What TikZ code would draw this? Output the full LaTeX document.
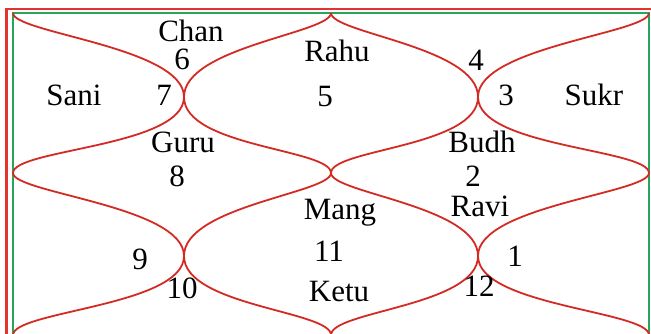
\documentclass[tikz,border=0pt]{standalone}
\usepackage{fontspec}
\setmainfont{Liberation Serif}
\definecolor{chartred}{RGB}{212,42,36}
\definecolor{framered}{RGB}{228,52,46}
\definecolor{framegreen}{RGB}{40,165,90}
\begin{document}
\begin{tikzpicture}[x=1pt,y=-1pt,
  curve/.style={draw=chartred,line width=1.8pt},
  lbl/.style={anchor=base,inner sep=0pt,font=\fontsize{31}{36}\selectfont}]
\useasboundingbox (0,0) rectangle (651,334);
\clip (0,0) rectangle (651,334);
\fill[white] (0,0) rectangle (651,334);
% frames
\draw[framered,line width=2.8pt] (6.5,9) rectangle (660,345);
\draw[framegreen,line width=1.4pt] (13,13) rectangle (649,335);
% key points
\coordinate (TL) at (13,13);
\coordinate (TM) at (331,13);
\coordinate (TR) at (649,13);
\coordinate (ML) at (13,173);
\coordinate (C)  at (331,173);
\coordinate (MR) at (649,173);
\coordinate (BL) at (13,335);
\coordinate (BM) at (331,335);
\coordinate (BR) at (649,335);
\coordinate (X1) at (184,97);
\coordinate (X2) at (478,97);
\coordinate (X3) at (184,256);
\coordinate (X4) at (478,256);
% wavy chains
\draw[curve] (TL) .. controls +(0,20) and +(0,-50) .. (X1)
  .. controls +(0,50) and +(0,-24) .. (ML)
  .. controls +(0,20) and +(0,-50) .. (X3)
  .. controls +(0,50) and +(0,-24) .. (BL);
\draw[curve] (TM) .. controls +(0,20) and +(0,-50) .. (X1)
  .. controls +(0,50) and +(0,-24) .. (C)
  .. controls +(0,20) and +(0,-50) .. (X3)
  .. controls +(0,50) and +(0,-24) .. (BM);
\draw[curve] (TM) .. controls +(0,20) and +(0,-50) .. (X2)
  .. controls +(0,50) and +(0,-24) .. (C)
  .. controls +(0,20) and +(0,-50) .. (X4)
  .. controls +(0,50) and +(0,-24) .. (BM);
\draw[curve] (TR) .. controls +(0,20) and +(0,-50) .. (X2)
  .. controls +(0,50) and +(0,-24) .. (MR)
  .. controls +(0,20) and +(0,-50) .. (X4)
  .. controls +(0,50) and +(0,-24) .. (BR);
% labels
\node[lbl] (chan) at (191,42) {Chan};
\node[lbl] (h6) at (182,70) {6};
\node[lbl] (sani) at (74,106) {Sani};
\node[lbl] (h7) at (164,106) {7};
\node[lbl] (guru) at (183,153) {Guru};
\node[lbl] (h8) at (177,186) {8};
\node[lbl] (rahu) at (337,62) {Rahu};
\node[lbl] (h5) at (325,107) {5};
\node[lbl] (h4) at (476,71) {4};
\node[lbl] (h3) at (506,106) {3};
\node[lbl] (sukr) at (594,106) {Sukr};
\node[lbl] (budh) at (482,153) {Budh};
\node[lbl] (h2) at (473,186) {2};
\node[lbl] (ravi) at (480,217) {Ravi};
\node[lbl] (h1) at (515,266) {1};
\node[lbl] (h12) at (479,296) {12};
\node[lbl] (h9) at (140,269) {9};
\node[lbl] (h10) at (182,298) {10};
\node[lbl] (mang) at (340,219) {Mang};
\node[lbl] (h11) at (329,261) {11};
\node[lbl] (ketu) at (339,301) {Ketu};
\end{tikzpicture}
\end{document}
